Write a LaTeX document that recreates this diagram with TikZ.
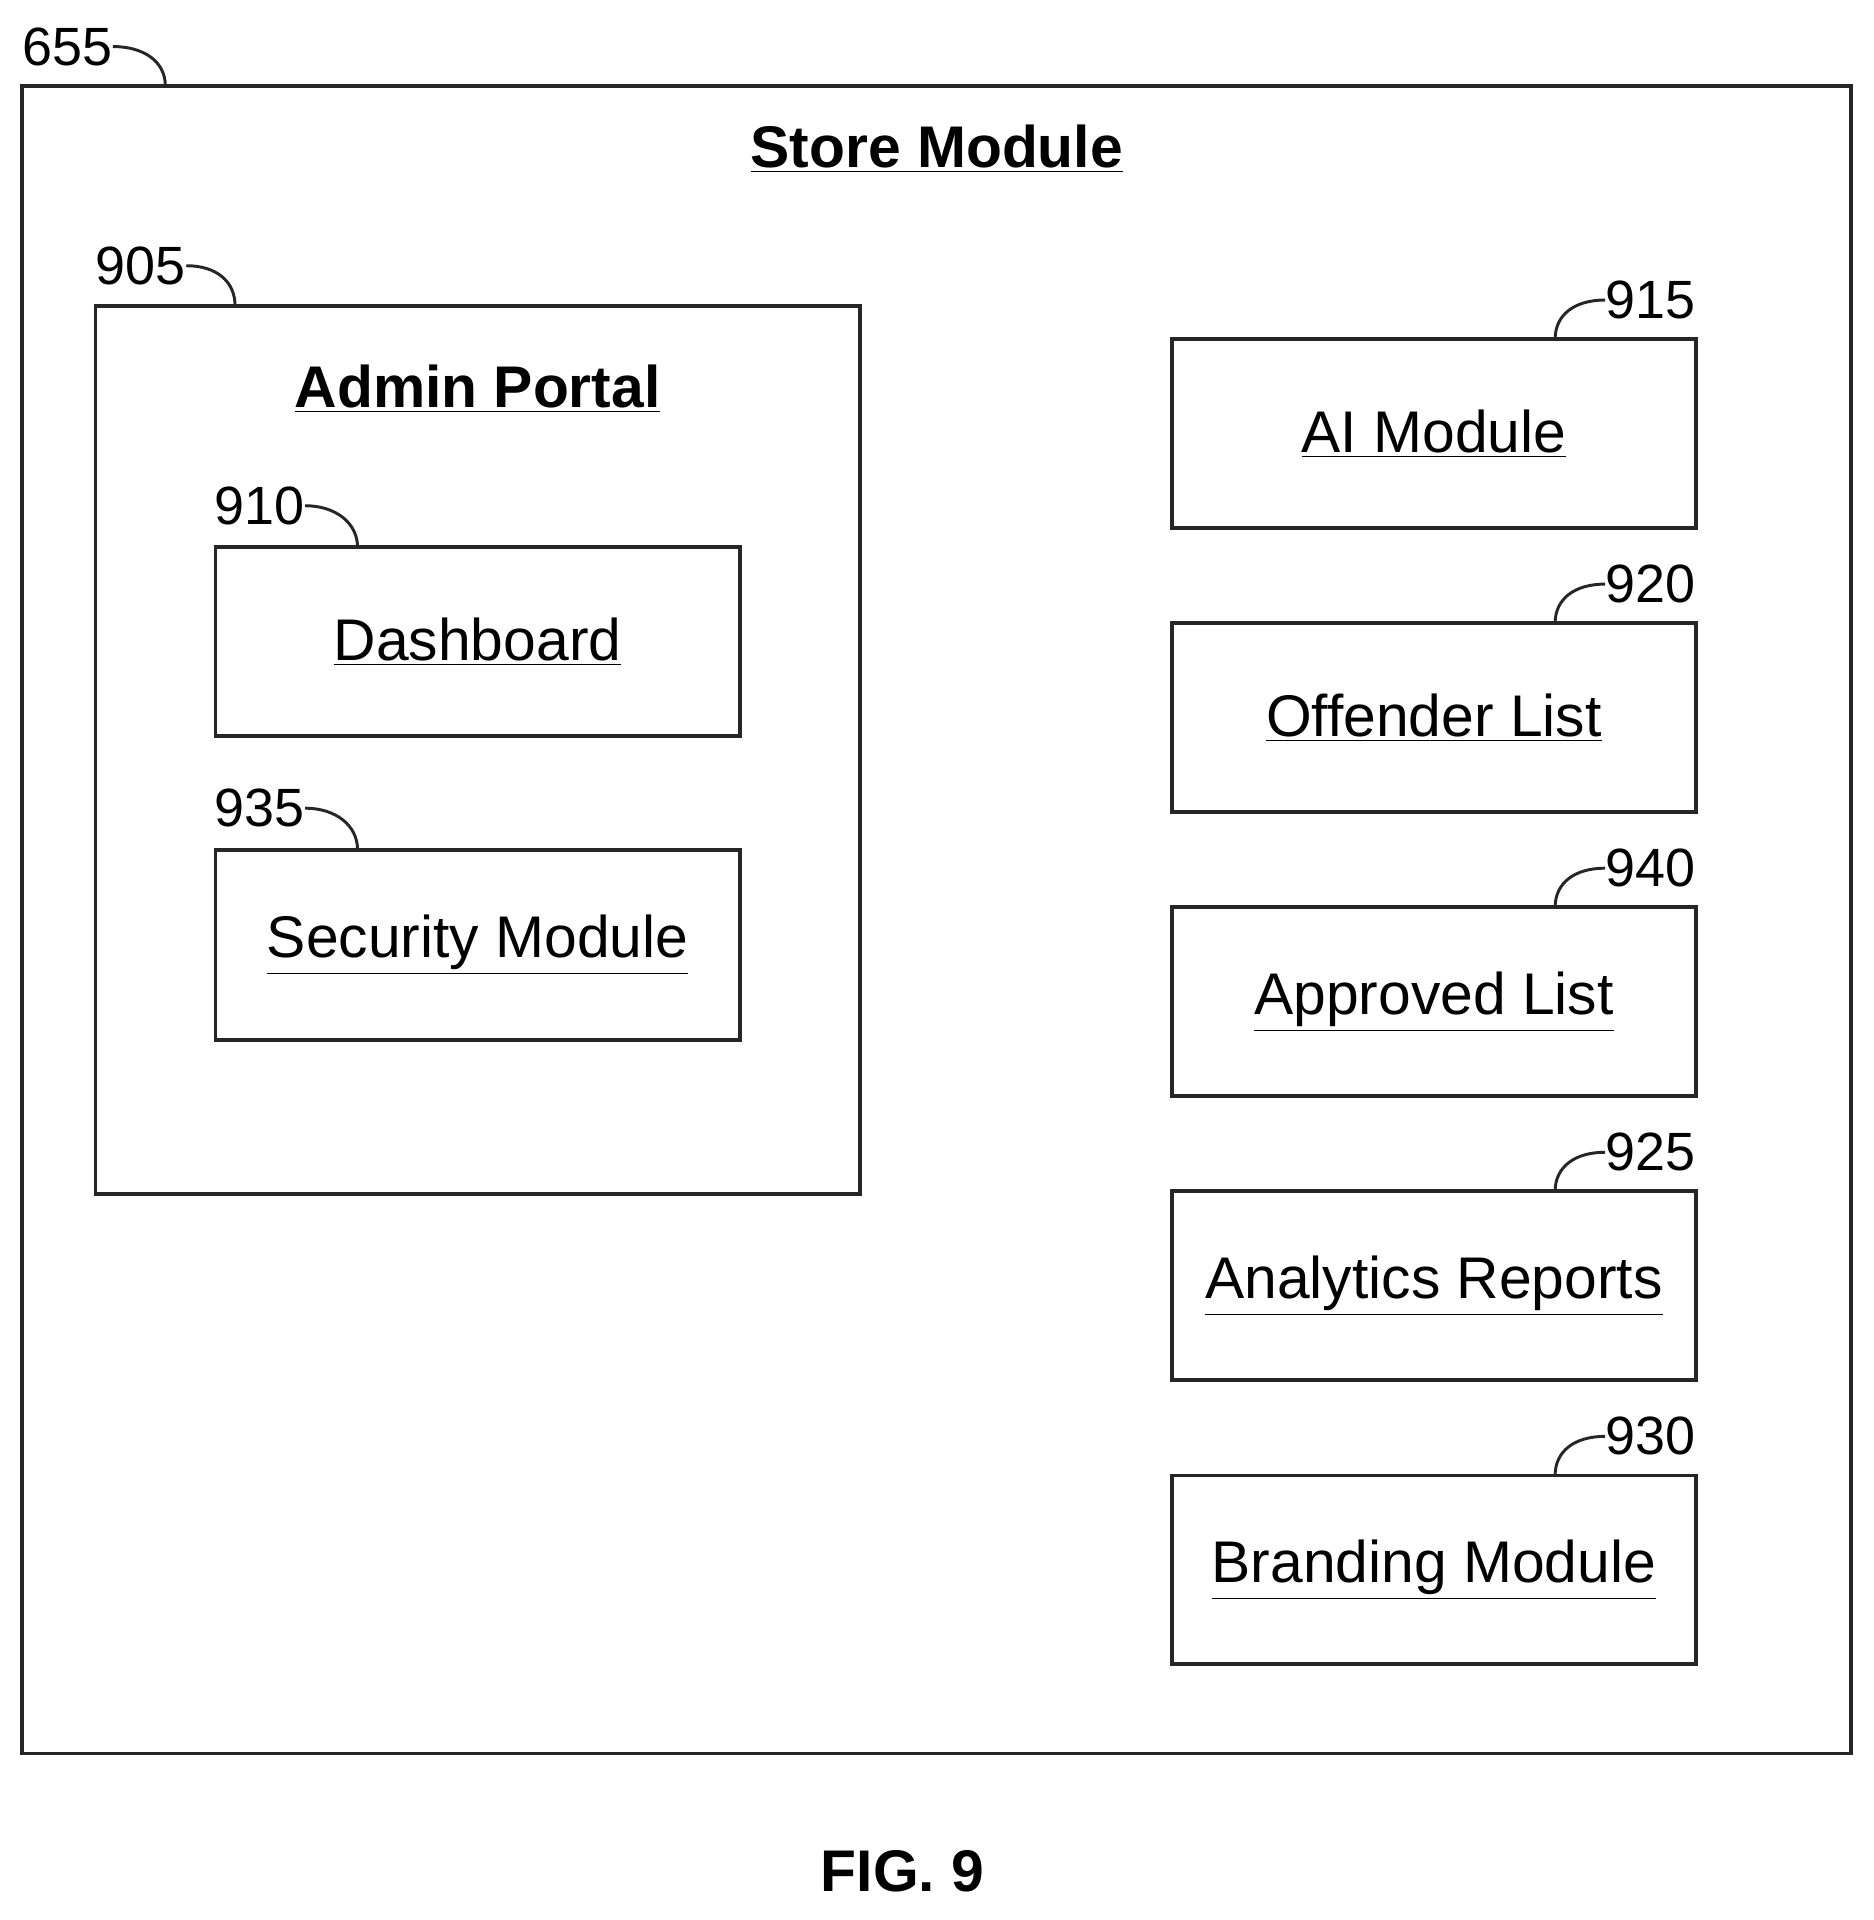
\documentclass[tikz,border=0pt]{standalone}
\usepackage{fontspec}
\setmainfont{Liberation Sans}
\begin{document}
\begin{tikzpicture}[x=0.5pt,y=-0.5pt,
 box/.style={draw=black!85,line width=1.6pt},
 lbl/.style={font=\fontsize{22}{26}\selectfont,inner sep=0pt},
 ttl/.style={font=\fontsize{24}{28}\selectfont,inner sep=0pt},
 btl/.style={font=\bfseries\fontsize{24}{28}\selectfont,inner sep=0pt},
 lead/.style={draw=black!85,line width=1.2pt}]
\useasboundingbox (0,0) rectangle (1530,1568);
\draw[box] (18,70) rectangle (1512,1432);
\node[lbl] (n655) at (55,38) {655};
\coordinate (c655) at (135,70);
\draw[lead] (n655.east) .. controls +(25,0) and +(0,-20) .. (c655);
\node[btl] (store) at (765,122) {\underline{Store Module}};
% Admin portal
\draw[box] (78,250) rectangle (702,975);
\node[lbl] (n905) at (115,217) {905};
\coordinate (c905) at (192,250);
\draw[lead] (n905.east) .. controls +(25,0) and +(0,-20) .. (c905);
\node[btl] (admin) at (390,318) {\underline{Admin Portal}};
\foreach \nm/\num/\t/\b/\txt in {dash/910/447/601/Dashboard,sec/935/694/849/Security Module}{
 \draw[box] (176,\t) rectangle (604,\b);
 \node[ttl] (\nm) at (390,{(\t+\b)/2}) {\underline{\txt}};
 \node[lbl] (n\num) at (212,{\t-34}) {\num};
 \coordinate (c\num) at (292,\t);
 \draw[lead] (n\num.east) .. controls +(25,0) and +(0,-20) .. (c\num);
}
\foreach \nm/\num/\t/\txt in {ai/915/277/AI Module,off/920/509/Offender List,app/940/741/Approved List,ana/925/973/Analytics Reports,bra/930/1205/Branding Module}{
 \draw[box] (957,\t) rectangle (1385,\t+154);
 \node[ttl] (\nm) at (1171,\t+77) {\underline{\txt}};
 \node[lbl] (n\num) at (1348,{\t-32}) {\num};
 \coordinate (c\num) at (1270,\t);
 \draw[lead] (n\num.west) .. controls +(-25,0) and +(0,-20) .. (c\num);
}
\node[btl] (fig) at (737,1528) {FIG. 9};
\end{tikzpicture}
\end{document}
